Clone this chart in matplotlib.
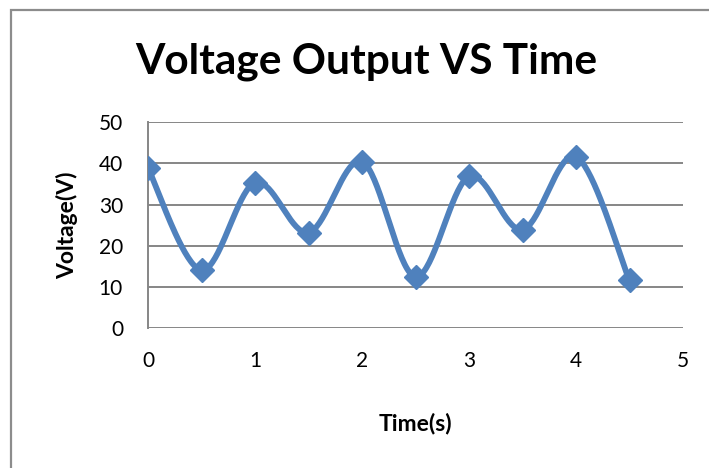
import numpy as np
import matplotlib
matplotlib.use("Agg")
import matplotlib.pyplot as plt
from matplotlib.patches import Rectangle

# Measured data
time_s = [0, 0.5, 1, 1.5, 2, 2.5, 3, 3.5, 4, 4.5]
voltage_v = [38.8, 14.1, 35.3, 23.2, 40.4, 12.5, 36.8, 23.9, 41.6, 11.6]

x_ticks = [0, 1, 2, 3, 4, 5]
y_ticks = [0, 10, 20, 30, 40, 50]

LINE_COLOR = "#4F81BD"
GRID_COLOR = "#868686"
FONT = "Lato"


def smooth_curve(x, y, n=40):
    """Catmull-Rom style Bezier smoothing through every point."""
    x = np.asarray(x, float)
    y = np.asarray(y, float)
    px = np.concatenate([[x[0]], x, [x[-1]]])
    py = np.concatenate([[y[0]], y, [y[-1]]])
    xs, ys = [], []
    t = np.linspace(0, 1, n)
    for i in range(1, len(px) - 2):
        p0 = np.array([px[i], py[i]])
        p3 = np.array([px[i + 1], py[i + 1]])
        c1 = p0 + (np.array([px[i + 1], py[i + 1]]) - np.array([px[i - 1], py[i - 1]])) / 6
        c2 = p3 - (np.array([px[i + 2], py[i + 2]]) - np.array([px[i], py[i]])) / 6
        b = ((1 - t) ** 3)[:, None] * p0 + (3 * (1 - t) ** 2 * t)[:, None] * c1 \
            + (3 * (1 - t) * t ** 2)[:, None] * c2 + (t ** 3)[:, None] * p3
        xs.append(b[:, 0])
        ys.append(b[:, 1])
    return np.concatenate(xs), np.concatenate(ys)


fig = plt.figure(figsize=(7.09, 4.68), dpi=100)
fig.patch.set_facecolor("white")

# chart area border
fig.add_artist(Rectangle((11 / 709, -0.05), 1.0, 1 - 9.5 / 468 + 0.05,
                         transform=fig.transFigure, fill=False,
                         edgecolor="#8C8C8C", linewidth=1.6))

ax = fig.add_axes([148 / 709, 1 - 328.3 / 468, 535 / 709, 206.3 / 468])
ax.set_xlim(0, 5)
ax.set_ylim(0, 50)

sx, sy = smooth_curve(time_s, voltage_v)
ax.plot(sx, sy, color=LINE_COLOR, linewidth=4.2, solid_capstyle="round", zorder=3)
ax.plot(time_s, voltage_v, linestyle="none", marker="D", markersize=12,
        color=LINE_COLOR, zorder=4)

ax.set_yticks(y_ticks)
ax.set_xticks(x_ticks)
ax.yaxis.grid(True, color=GRID_COLOR, linewidth=1.4)
ax.set_axisbelow(True)
for side in ("top", "right", "bottom"):
    ax.spines[side].set_visible(False)
ax.spines["left"].set_color(GRID_COLOR)
ax.spines["left"].set_linewidth(1.4)
ax.tick_params(axis="both", length=0, labelsize=15)
ax.tick_params(axis="y", pad=18)
ax.tick_params(axis="x", pad=16)
for lbl in ax.get_xticklabels() + ax.get_yticklabels():
    lbl.set_fontfamily(FONT)

ax.set_xlabel("Time(s)", fontfamily=FONT, fontweight="bold", fontsize=16.5, labelpad=30)
ax.set_ylabel("Voltage(V)", fontfamily=FONT, fontweight="bold", fontsize=16.5, labelpad=15)

fig.text(366 / 709, 1 - 62 / 468, "Voltage Output VS Time", ha="center", va="center",
         fontfamily=FONT, fontweight="bold", fontsize=30.5)

fig.savefig("out.png", dpi=100)
